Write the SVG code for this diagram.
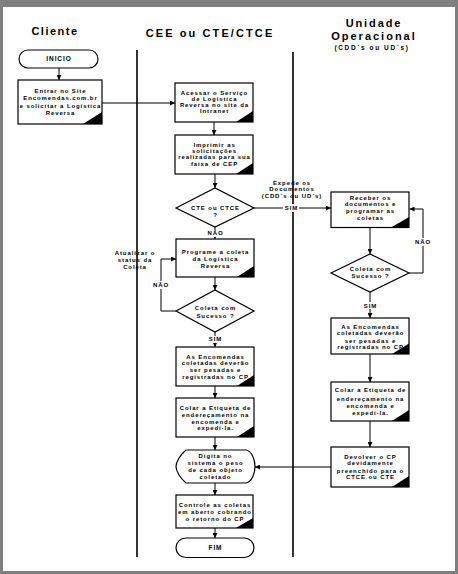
<svg xmlns="http://www.w3.org/2000/svg" width="458" height="574" viewBox="0 0 458 574">
<style>
text{font-family:"Liberation Sans",Arial,sans-serif;font-weight:bold;fill:#000;text-anchor:middle}
.t{font-size:6px;letter-spacing:0.9px}
.h{font-size:11px;letter-spacing:1.8px}
.s{font-size:6.5px;letter-spacing:1.6px}
.shape{fill:#fff;stroke:#000;stroke-width:1.2}
.corner{fill:#000;stroke:none}
.c{fill:none;stroke:#000;stroke-width:1}
.lane{stroke:#000;stroke-width:1.6}
.lbl{fill:#fff;stroke:none}
</style>
<defs>
<marker id="ah" markerWidth="5" markerHeight="5" refX="5" refY="2.5" orient="auto" markerUnits="userSpaceOnUse">
<path d="M0,0 L5,2.5 L0,5 Z" fill="#000"/>
</marker>
</defs>
<rect x="0" y="0" width="458" height="574" fill="#7f7f7f"/>
<rect x="3" y="7" width="452" height="564" fill="#fff"/>

<g id="headers">
<text class="h" x="55" y="35" style="letter-spacing:1.5px">Cliente</text>
<text class="h" x="210" y="36.5" style="letter-spacing:2.1px">CEE ou CTE/CTCE</text>
<text class="h" x="374" y="27.3" style="letter-spacing:1.9px">Unidade</text>
<text class="h" x="374" y="40.3" style="letter-spacing:2px">Operacional</text>
<text class="s" x="372" y="50">(CDD´s ou UD´s)</text>
</g>

<g id="lanes">
<line class="lane" x1="137" y1="50" x2="137" y2="557"/>
<line class="lane" x1="293" y1="52" x2="293" y2="557"/>
</g>

<g id="connectors">
<line class="c" x1="59" y1="68" x2="59" y2="80" marker-end="url(#ah)"/>
<line class="c" x1="102" y1="103" x2="175" y2="103" marker-end="url(#ah)"/>
<line class="c" x1="214" y1="122" x2="214" y2="135" marker-end="url(#ah)"/>
<line class="c" x1="215" y1="174" x2="215" y2="188" marker-end="url(#ah)"/>
<line class="c" x1="254" y1="208" x2="331" y2="208" marker-end="url(#ah)"/>
<line class="c" x1="215" y1="227" x2="215" y2="239" marker-end="url(#ah)"/>
<line class="c" x1="215" y1="277" x2="215" y2="290" marker-end="url(#ah)"/>
<polyline class="c" points="176,311 161,311 161,259 176,259" marker-end="url(#ah)"/>
<line class="c" x1="215" y1="332" x2="215" y2="347" marker-end="url(#ah)"/>
<line class="c" x1="215" y1="386" x2="215" y2="398" marker-end="url(#ah)"/>
<line class="c" x1="215" y1="437" x2="215" y2="450" marker-end="url(#ah)"/>
<line class="c" x1="215" y1="483" x2="215" y2="495" marker-end="url(#ah)"/>
<line class="c" x1="215" y1="528" x2="215" y2="538" marker-end="url(#ah)"/>
<line class="c" x1="370" y1="227.5" x2="370" y2="254" marker-end="url(#ah)"/>
<polyline class="c" points="409,273 423,273 423,209 409.5,209" marker-end="url(#ah)"/>
<line class="c" x1="370" y1="292" x2="370" y2="318" marker-end="url(#ah)"/>
<line class="c" x1="370" y1="354" x2="370" y2="382" marker-end="url(#ah)"/>
<line class="c" x1="370" y1="421" x2="370" y2="447" marker-end="url(#ah)"/>
<line class="c" x1="331" y1="467" x2="255" y2="467" marker-end="url(#ah)"/>

<rect class="lbl" x="283" y="204" width="16" height="8"/>
<text class="t" x="291.5" y="210.3">SIM</text>
<text class="t" x="292" y="184.7">Expede os</text>
<text class="t" x="292" y="191.3">Documentos</text>
<text class="t" x="292" y="198">(CDD´s ou UD´s)</text>
<rect class="lbl" x="206" y="230" width="18" height="7"/>
<text class="t" x="215.5" y="235.2">NÃO</text>
<rect class="lbl" x="151" y="281" width="19" height="8"/>
<text class="t" x="161" y="287.2">NÃO</text>
<text class="t" x="135" y="255.3">Atualizar o</text>
<text class="t" x="135" y="262">status da</text>
<text class="t" x="135" y="268.7">Coleta</text>
<rect class="lbl" x="207" y="336" width="16" height="7"/>
<text class="t" x="215.5" y="341">SIM</text>
<rect class="lbl" x="413" y="238" width="19" height="8"/>
<text class="t" x="423" y="244">NÃO</text>
<rect class="lbl" x="362" y="302" width="16" height="7"/>
<text class="t" x="370.5" y="307.5">SIM</text>
</g>

<g id="inicio">
<rect class="shape" x="19" y="50" width="79" height="18" rx="9" ry="9"/>
<text class="t" x="59" y="61.3" style="font-size:6.5px">INICIO</text>
</g>

<g id="entrar-site">
<rect class="shape" x="18" y="80" width="84" height="44"/>
<path class="corner" d="M83,124 L102,112 L102,124 Z"/>
<text class="t" x="60.5" y="92.7">Entrar no Site</text>
<text class="t" x="60.5" y="100.3">Encomendas.com.br</text>
<text class="t" x="60.5" y="108">e solicitar a Logística</text>
<text class="t" x="60.5" y="115.3">Reversa</text>
</g>

<g id="acessar-servico">
<rect class="shape" x="175" y="83" width="78" height="39"/>
<path class="corner" d="M236,122 L253,111 L253,122 Z"/>
<text class="t" x="214.5" y="95.3">Acessar o Serviço</text>
<text class="t" x="214.5" y="101.3">de Logística</text>
<text class="t" x="214.5" y="107">Reversa no site da</text>
<text class="t" x="214.5" y="112.8">Intranet</text>
</g>

<g id="imprimir">
<rect class="shape" x="175" y="135" width="78" height="39"/>
<path class="corner" d="M236,174 L253,163 L253,174 Z"/>
<text class="t" x="214.5" y="147.3">Imprimir as</text>
<text class="t" x="214.5" y="153.3">solicitações</text>
<text class="t" x="214.5" y="159.3">realizadas para sua</text>
<text class="t" x="214.5" y="165.5">faixa de CEP</text>
</g>

<g id="decisao-cte">
<polygon class="shape" points="176,208 215,188 254,208 215,227"/>
<text class="t" x="215.5" y="209.8">CTE ou CTCE</text>
<text class="t" x="215.5" y="216.5">?</text>
</g>

<g id="programe-coleta">
<rect class="shape" x="176" y="239" width="78" height="38"/>
<path class="corner" d="M237,277 L254,266 L254,277 Z"/>
<text class="t" x="215.5" y="253.7">Programe a coleta</text>
<text class="t" x="215.5" y="260.7">da Logística</text>
<text class="t" x="215.5" y="268">Reversa</text>
</g>

<g id="decisao-coleta-cee">
<polygon class="shape" points="176,311 215,290 254,311 215,332"/>
<text class="t" x="215.5" y="310.2">Coleta com</text>
<text class="t" x="215.5" y="317.7">Sucesso ?</text>
</g>

<g id="encomendas-cee">
<rect class="shape" x="176" y="347" width="78" height="39"/>
<path class="corner" d="M237,386 L254,375 L254,386 Z"/>
<text class="t" x="215.5" y="358.6">As Encomendas</text>
<text class="t" x="215.5" y="365.2">coletadas deverão</text>
<text class="t" x="215.5" y="372">ser pesadas e</text>
<text class="t" x="215.5" y="378.8">registradas no CP</text>
</g>

<g id="colar-etiqueta-cee">
<rect class="shape" x="176" y="398" width="78" height="39"/>
<path class="corner" d="M237,437 L254,426 L254,437 Z"/>
<text class="t" x="215.5" y="410.3">Colar a Etiqueta de</text>
<text class="t" x="215.5" y="417">endereçamento na</text>
<text class="t" x="215.5" y="423.7">encomenda e</text>
<text class="t" x="215.5" y="430.4">expedi-la.</text>
</g>

<g id="digita-sistema">
<path class="shape" d="M186,450 L246,450 C252,451 255,460 255,466.5 C255,473 252,482 246,483 L186,483 C180,478 176,471 176,466.5 C176,462 180,455 186,450 Z"/>
<text class="t" x="215.5" y="458">Digita no</text>
<text class="t" x="215.5" y="465.3">sistema o peso</text>
<text class="t" x="215.5" y="472">de cada objeto</text>
<text class="t" x="215.5" y="479.3">coletado</text>
</g>

<g id="controle-coletas">
<rect class="shape" x="176" y="495" width="77" height="33"/>
<path class="corner" d="M236,528 L253,518 L253,528 Z"/>
<text class="t" x="215" y="507">Controle as coletas</text>
<text class="t" x="215" y="513.7">em aberto cobrando</text>
<text class="t" x="215" y="521">o retorno do CP</text>
</g>

<g id="fim">
<rect class="shape" x="176" y="538" width="78" height="19.5" rx="9.75" ry="9.75"/>
<text class="t" x="215.5" y="550.3" style="font-size:6.5px">FIM</text>
</g>

<g id="receber-documentos">
<rect class="shape" x="331" y="192" width="78" height="35.5"/>
<path class="corner" d="M391,227.5 L409,217 L409,227.5 Z"/>
<text class="t" x="370.5" y="199.5">Receber os</text>
<text class="t" x="370.5" y="206.2">documentos e</text>
<text class="t" x="370.5" y="212.9">programar as</text>
<text class="t" x="370.5" y="219.5">coletas</text>
</g>

<g id="decisao-coleta-uo">
<polygon class="shape" points="331,273 370,254 409,273 370,292"/>
<text class="t" x="370.5" y="271.3">Coleta com</text>
<text class="t" x="370.5" y="278">Sucesso ?</text>
</g>

<g id="encomendas-uo">
<rect class="shape" x="331" y="318" width="78" height="36"/>
<path class="corner" d="M392,354 L409,343.5 L409,354 Z"/>
<text class="t" x="370.5" y="328.7">As Encomendas</text>
<text class="t" x="370.5" y="335.3">coletadas deverão</text>
<text class="t" x="370.5" y="342.5">ser pesadas e</text>
<text class="t" x="370.5" y="349.3">registradas no CP</text>
</g>

<g id="colar-etiqueta-uo">
<rect class="shape" x="331" y="382" width="78" height="39"/>
<path class="corner" d="M392,421 L409,410 L409,421 Z"/>
<text class="t" x="370.5" y="392">Colar a Etiqueta de</text>
<text class="t" x="370.5" y="400.5">endereçamento na</text>
<text class="t" x="370.5" y="408">encomenda e</text>
<text class="t" x="370.5" y="415.3">expedi-la.</text>
</g>

<g id="devolver-cp">
<rect class="shape" x="331" y="447" width="78" height="40"/>
<path class="corner" d="M392,487 L409,476 L409,487 Z"/>
<text class="t" x="370.5" y="458.7">Devolver o CP</text>
<text class="t" x="370.5" y="465.3">devidamente</text>
<text class="t" x="370.5" y="472.7">preenchido para o</text>
<text class="t" x="370.5" y="479.3">CTCE ou CTE</text>
</g>
</svg>
